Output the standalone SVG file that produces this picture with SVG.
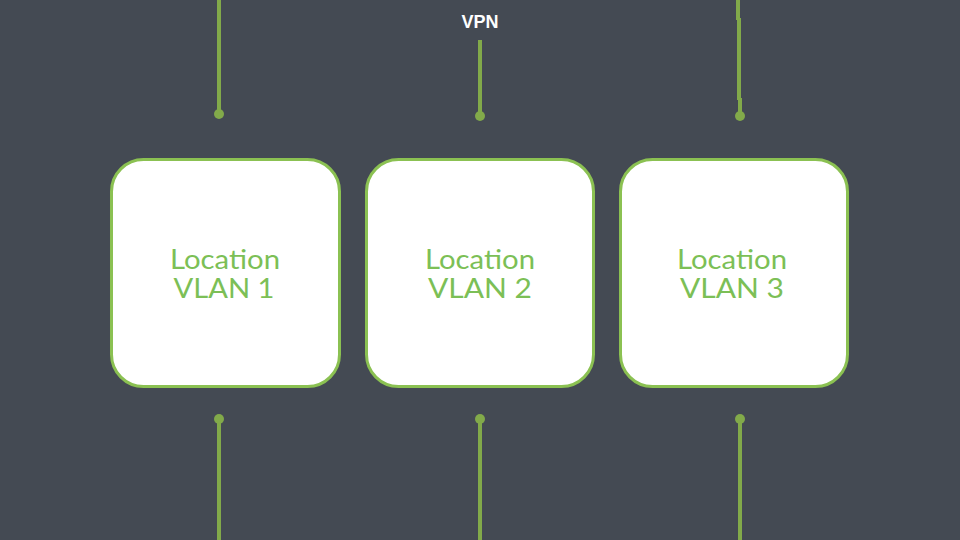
<svg xmlns="http://www.w3.org/2000/svg" width="960" height="540" viewBox="0 0 960 540">
<style>
.bg{fill:#444a53}
.box{fill:#ffffff;stroke:#8bc152;stroke-width:3}
.lbl{font-family:Lato,"Open Sans",sans-serif;font-size:26px;fill:#7cbf56;text-anchor:middle}
.wire{stroke:#82aa4a;stroke-width:4;fill:none}
.dot{fill:#82aa4a}
.vpn{font-family:"Liberation Sans",Arial,sans-serif;font-size:18px;font-weight:bold;fill:#ffffff;text-anchor:middle}
</style>
<rect class="bg" x="0" y="0" width="960" height="540"/>
<text class="vpn" x="480" y="28">VPN</text>
<g id="connectors">
<line class="wire" x1="219" y1="0" x2="219" y2="113"/>
<circle class="dot" cx="219" cy="114" r="5"/>
<line class="wire" x1="480" y1="40" x2="480" y2="116"/>
<circle class="dot" cx="480" cy="116" r="5"/>
<line class="wire" x1="738" y1="0" x2="738" y2="20"/>
<line class="wire" x1="739" y1="18" x2="739" y2="100"/>
<line class="wire" x1="740" y1="98" x2="740" y2="116"/>
<circle class="dot" cx="740" cy="116" r="5"/>
<circle class="dot" cx="219" cy="419" r="5"/>
<line class="wire" x1="219" y1="419" x2="219" y2="540"/>
<circle class="dot" cx="480" cy="419" r="5"/>
<line class="wire" x1="480" y1="419" x2="480" y2="540"/>
<circle class="dot" cx="740" cy="419" r="5"/>
<line class="wire" x1="740" y1="419" x2="740" y2="540"/>
</g>
<g id="vlan1">
<rect class="box" x="111.5" y="159.5" width="228" height="227" rx="32"/>
<text class="lbl" x="225" y="269" textLength="110" lengthAdjust="spacingAndGlyphs">Location</text>
<text class="lbl" x="224" y="298" textLength="101" lengthAdjust="spacingAndGlyphs">VLAN 1</text>
</g>
<g id="vlan2">
<rect class="box" x="366.5" y="159.5" width="227" height="227" rx="32"/>
<text class="lbl" x="480" y="269" textLength="110" lengthAdjust="spacingAndGlyphs">Location</text>
<text class="lbl" x="480" y="298" textLength="104" lengthAdjust="spacingAndGlyphs">VLAN 2</text>
</g>
<g id="vlan3">
<rect class="box" x="620.5" y="159.5" width="227" height="227" rx="32"/>
<text class="lbl" x="732" y="269" textLength="110" lengthAdjust="spacingAndGlyphs">Location</text>
<text class="lbl" x="732" y="298" textLength="104" lengthAdjust="spacingAndGlyphs">VLAN 3</text>
</g>
</svg>
